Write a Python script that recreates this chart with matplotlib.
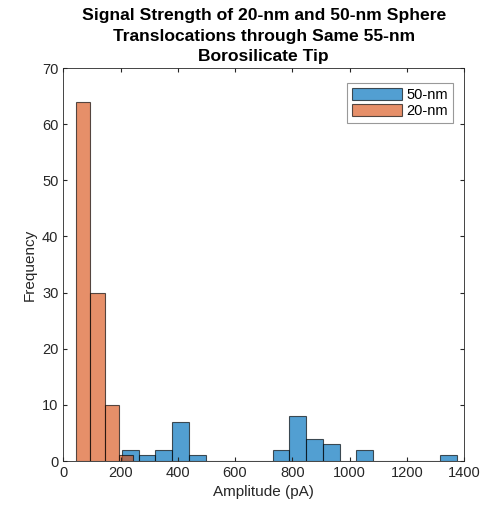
import numpy as np
import matplotlib
matplotlib.use("Agg")
import matplotlib.pyplot as plt

plt.rcParams['font.family'] = ['Liberation Sans', 'DejaVu Sans']

# histogram of 50-nm sphere events (bin start, bin width, counts per bin)
blue_start = 205
blue_width = 58.5
blue_counts = [2, 1, 2, 7, 1, 0, 0, 0, 0, 2, 8, 4, 3, 0, 2, 0, 0, 0, 0, 1]

# histogram of 20-nm sphere events
orange_start = 44
orange_width = 50
orange_counts = [64, 30, 10, 1]

blue_edges = blue_start + blue_width * np.arange(len(blue_counts))
orange_edges = orange_start + orange_width * np.arange(len(orange_counts))

fig = plt.figure(figsize=(5, 5.14), dpi=100)
ax = fig.add_axes([0.1266, 0.1031, 0.8014, 0.7646])

gray = '#262626'
ax.bar(blue_edges, blue_counts, width=blue_width, align='edge',
       color=(0, 0.447, 0.741, 0.68), edgecolor=(0, 0, 0, 0.65), linewidth=0.8, label='50-nm')
ax.bar(orange_edges, orange_counts, width=orange_width, align='edge',
       color=(0.85, 0.325, 0.098, 0.65), edgecolor=(0, 0, 0, 0.65), linewidth=0.8, label='20-nm')

ax.set_xlim(0, 1400)
ax.set_ylim(0, 70)
ax.set_xticks(np.arange(0, 1401, 200))
ax.set_yticks(np.arange(0, 71, 10))
ax.tick_params(direction='in', top=True, right=True, labelsize=10.5, colors=gray, length=3)
for s in ax.spines.values():
    s.set_color(gray)
    s.set_linewidth(0.6)

ax.set_xlabel('Amplitude (pA)', fontsize=11, color=gray)
ax.set_ylabel('Frequency', fontsize=11, color=gray)
ax.set_title('Signal Strength of 20-nm and 50-nm Sphere\nTranslocations through Same 55-nm\nBorosilicate Tip',
             fontsize=12.6, fontweight='bold', color='black', linespacing=1.45, pad=5)

leg = ax.legend(loc='upper right', bbox_to_anchor=(0.9725, 0.962), fontsize=10.5,
                handlelength=3.4, handleheight=0.9, fancybox=False, framealpha=1,
                edgecolor='#999999', borderaxespad=0, handletextpad=0.3,
                labelspacing=0.15, borderpad=0.35)
leg.get_frame().set_linewidth(0.8)

fig.savefig('out.png', dpi=100)
